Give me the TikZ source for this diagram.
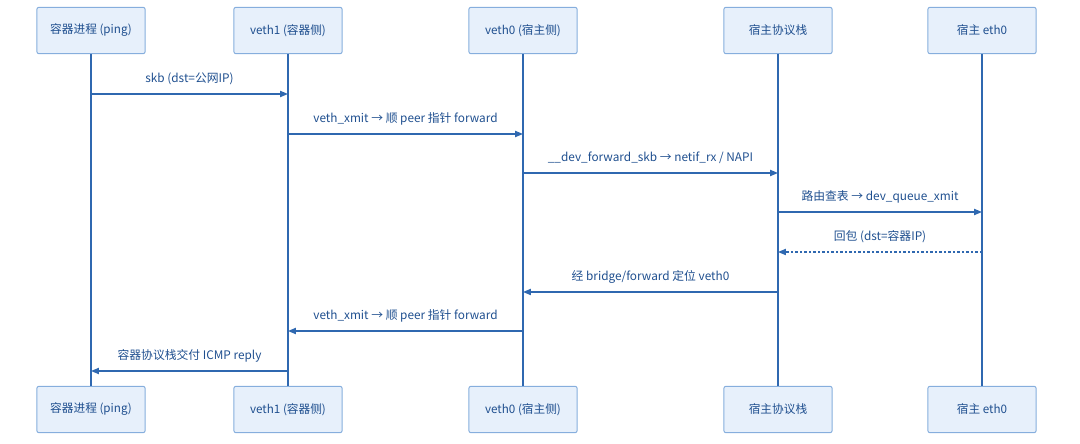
\documentclass[tikz,border=0pt]{standalone}
\usepackage{fontspec}
\setmainfont{Noto Sans CJK SC}
\usepackage{tikz}
\usetikzlibrary{arrows.meta}
\tikzset{>=Stealth}
\usepackage{xcolor}
\definecolor{lineblue}{HTML}{2F68B0}
\definecolor{textblue}{HTML}{1F4F8F}
\definecolor{boxfill}{HTML}{E7F0FB}
\definecolor{boxdraw}{HTML}{86AEDD}
\tikzset{
  actor/.style={draw=boxdraw, fill=boxfill, rounded corners=1.5pt, line width=0.7pt,
    minimum width=77pt, minimum height=33pt, inner sep=0pt,
    text=textblue, font=\fontsize{8.3}{10}\selectfont},
  life/.style={lineblue, line width=1.05pt},
  msg/.style={lineblue, line width=0.85pt, -{Triangle[length=5.6pt,width=4.4pt]}},
  reply/.style={msg, dash pattern=on 1.6pt off 1.6pt},
  lbl/.style={text=textblue, font=\fontsize{8.4}{10}\selectfont, above=6pt, inner sep=0pt}
}

\begin{document}
\begin{tikzpicture}[x=0.025cm, y=-0.025cm]
            \useasboundingbox (0,0) rectangle (1080,444);
            % participants, top row
            \node[actor] (procT)  at (91,30.5)  {容器进程 (ping)};
            \node[actor] (veth1T) at (288,30.5) {veth1 (容器侧)};
            \node[actor] (veth0T) at (523,30.5) {veth0 (宿主侧)};
            \node[actor] (stackT) at (778,30.5) {宿主协议栈};
            \node[actor] (ethT)   at (982,30.5) {宿主 eth0};
            % participants, bottom row
            \node[actor] (procB)  at (91,409.5)  {容器进程 (ping)};
            \node[actor] (veth1B) at (288,409.5) {veth1 (容器侧)};
            \node[actor] (veth0B) at (523,409.5) {veth0 (宿主侧)};
            \node[actor] (stackB) at (778,409.5) {宿主协议栈};
            \node[actor] (ethB)   at (982,409.5) {宿主 eth0};
            % lifelines
            \foreach \p in {proc, veth1, veth0, stack, eth}
                \draw[life] (\p T.south) -- (\p B.north);
            % outgoing packet
            \draw[msg] (procT |- 0,94) -- node[lbl] {skb (dst=公网IP)} (veth1T |- 0,94);
            \draw[msg] (veth1T |- 0,134) -- node[lbl] {veth\_xmit → 顺 peer 指针 forward} (veth0T |- 0,134);
            \draw[msg] (veth0T |- 0,173) -- node[lbl] {\_\_dev\_forward\_skb → netif\_rx / NAPI} (stackT |- 0,173);
            \draw[msg] (stackT |- 0,212) -- node[lbl] {路由查表 → dev\_queue\_xmit} (ethT |- 0,212);
            % reply packet
            \draw[reply] (ethT |- 0,252) -- node[lbl] {回包 (dst=容器IP)} (stackT |- 0,252);
            \draw[msg] (stackT |- 0,292) -- node[lbl] {经 bridge/forward 定位 veth0} (veth0T |- 0,292);
            \draw[msg] (veth0T |- 0,331) -- node[lbl] {veth\_xmit → 顺 peer 指针 forward} (veth1T |- 0,331);
            \draw[msg] (veth1T |- 0,371) -- node[lbl] {容器协议栈交付 ICMP reply} (procT |- 0,371);
        \end{tikzpicture}
\end{document}
